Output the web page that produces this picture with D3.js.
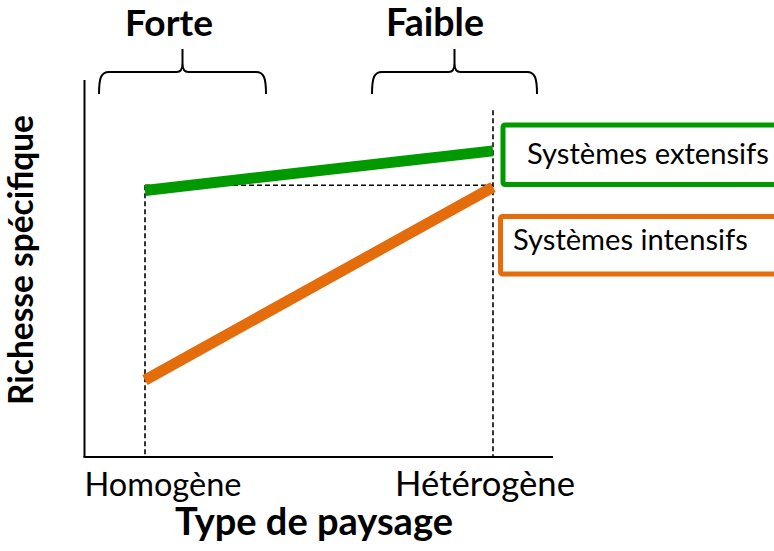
<!DOCTYPE html>
<meta charset="utf-8">
<script src="https://d3js.org/d3.v7.min.js"></script>
<style>
  body { margin: 0; background: #fff; }
  text { font-family: Lato, "Open Sans", sans-serif; fill: #000; }
</style>
<svg id="chart" width="774" height="551"></svg>
<script>

    // data (y in arbitrary 0-100 units)
    const categories = ["Homogène", "Hétérogène"];
    const extensifs = [70.7, 81.2];
    const intensifs = [20.4, 71.6];
    const refLevel = 72.1;
    const seriesNames = ["Systèmes extensifs", "Systèmes intensifs"];
    const groupLabels = ["Forte", "Faible"];
    const xTitle = "Type de paysage";
    const yTitle = "Richesse spécifique";

    const svg = d3.select("#chart");
    const green = "#009a00", orange = "#e46c0a";

    const x = d3.scalePoint().domain(categories).range([145, 493]);
    const y = d3.scaleLinear().domain([0, 100]).range([457, 80]);

    // shrink/grow a text so it covers a given width
    function fit(t, w) {
        t.style("font-size", "20px");
        const len = t.node().getComputedTextLength();
        t.style("font-size", (20 * w / len) + "px");
        return t;
    }

    // axes (plain lines, no ticks)
    svg.append("line")
        .attr("x1", 84.5).attr("x2", 84.5)
        .attr("y1", y(100)).attr("y2", y(0))
        .style("stroke", "#000").style("stroke-width", 2);
    svg.append("line")
        .attr("x1", 83.5).attr("x2", 553)
        .attr("y1", y(0)).attr("y2", y(0))
        .style("stroke", "#000").style("stroke-width", 2);

    // dashed guides
    const dash = "5,3";
    svg.append("line")
        .attr("x1", x(categories[0])).attr("x2", x(categories[1]))
        .attr("y1", y(refLevel)).attr("y2", y(refLevel))
        .style("stroke", "#000").style("stroke-width", 1.6).style("stroke-dasharray", dash);
    svg.append("line")
        .attr("x1", x(categories[0])).attr("x2", x(categories[0]))
        .attr("y1", y(refLevel)).attr("y2", y(0))
        .style("stroke", "#000").style("stroke-width", 1.6).style("stroke-dasharray", dash);
    svg.append("line")
        .attr("x1", x(categories[1])).attr("x2", x(categories[1]))
        .attr("y1", y(92)).attr("y2", y(0))
        .style("stroke", "#000").style("stroke-width", 1.6).style("stroke-dasharray", dash);

    // the two lines
    const line = d3.line()
        .x((d, i) => x(categories[i]))
        .y(d => y(d));

    svg.append("path")
        .attr("d", line(extensifs))
        .style("fill", "none").style("stroke", green).style("stroke-width", 11);
    svg.append("path")
        .attr("d", line(intensifs))
        .style("fill", "none").style("stroke", orange).style("stroke-width", 11);

    // legend boxes
    svg.append("rect")
        .attr("x", 503).attr("y", 125).attr("width", 320).attr("height", 59.5).attr("rx", 2)
        .style("fill", "#fff").style("stroke", green).style("stroke-width", 5);
    svg.append("rect")
        .attr("x", 500.5).attr("y", 216.5).attr("width", 320).attr("height", 57.5).attr("rx", 2)
        .style("fill", "#fff").style("stroke", orange).style("stroke-width", 5);

    fit(svg.append("text").attr("x", 527).attr("y", 164).text(seriesNames[0]), 242);
    fit(svg.append("text").attr("x", 513).attr("y", 250).text(seriesNames[1]), 235);

    // tick labels
    fit(svg.append("text").attr("x", 163).attr("y", 496)
        .attr("text-anchor", "middle").text(categories[0]), 157);
    fit(svg.append("text").attr("x", 485).attr("y", 496)
        .attr("text-anchor", "middle").text(categories[1]), 180);

    // axis titles
    fit(svg.append("text").attr("x", 314).attr("y", 535)
        .attr("text-anchor", "middle").style("font-weight", "bold").text(xTitle), 278);
    fit(svg.append("text")
        .attr("transform", "translate(33,260) rotate(-90)")
        .attr("text-anchor", "middle").style("font-weight", "bold").text(yTitle), 290);

    // braces with their labels
    const braces = [[99, 266, 169], [372, 537, 435]];
    braces.forEach(([x0, x1, tx], i) => {
        const xm = (x0 + x1) / 2, yb = 94, yh = 72, yt = 49;
        svg.append("path")
            .attr("d", `M${x0},${yb} C${x0},${yh + 6} ${x0 + 2},${yh} ${x0 + 10},${yh}
                        L${xm - 6},${yh} C${xm - 2},${yh} ${xm},${yh - 2} ${xm},${yh - 9} L${xm},${yt}
                        M${xm},${yh - 9} C${xm},${yh - 2} ${xm + 2},${yh} ${xm + 6},${yh}
                        L${x1 - 10},${yh} C${x1 - 2},${yh} ${x1},${yh + 6} ${x1},${yb}`)
            .style("fill", "none").style("stroke", "#000").style("stroke-width", 2);
        fit(svg.append("text").attr("x", tx).attr("y", 36)
            .attr("text-anchor", "middle").style("font-weight", "bold").text(groupLabels[i]),
            i === 0 ? 88 : 98);
    });

</script>
